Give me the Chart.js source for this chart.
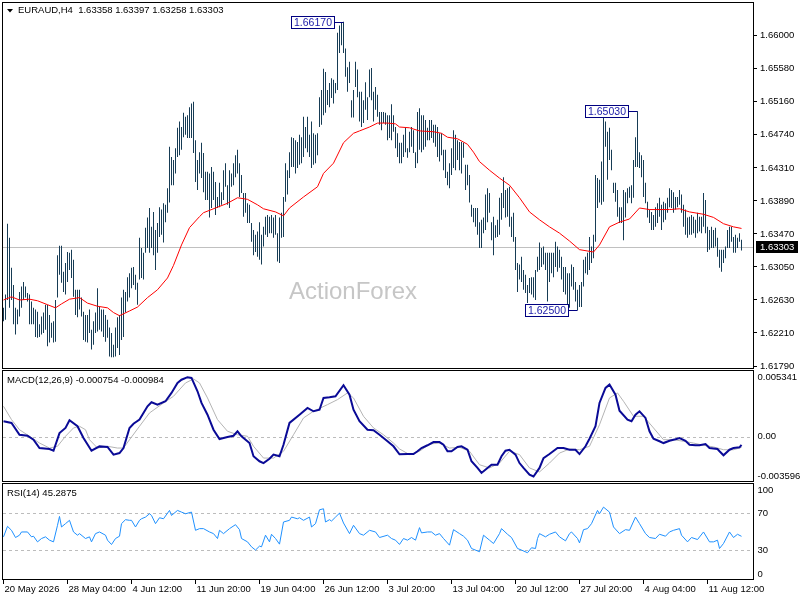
<!DOCTYPE html>
<html>
<head>
<meta charset="utf-8">
<title>EURAUD H4</title>
<script src="https://cdn.jsdelivr.net/npm/chart.js@4.4.1/dist/chart.umd.min.js"></script>
<style>
  body { margin: 0; background: #fff; }
  #wrap { position: relative; width: 800px; height: 600px; overflow: hidden; background: #fff; }
  #wrap canvas { position: absolute; left: 0; }
</style>
</head>
<body>
<div id="wrap">
  <canvas id="price" width="800" height="371" style="top:0"></canvas>
  <canvas id="macd" width="800" height="114" style="top:369px"></canvas>
  <canvas id="rsi" width="800" height="118" style="top:482px"></canvas>
</div>
<script>
const symbol = 'EURAUD,H4';
const watermark = 'ActionForex';
const lastBar = [1.63358, 1.63397, 1.63258, 1.63303]; // open, high, low, close

// H4 bars, one per index, oldest first
const barHigh = [
  1.6253, 1.6270, 1.6360, 1.6342, 1.6304, 1.6282, 1.6253, 1.6251, 1.6273, 1.6280,
  1.6286, 1.6280, 1.6272, 1.6270, 1.6261, 1.6253, 1.6251, 1.6248, 1.6232, 1.6242,
  1.6247, 1.6257, 1.6257, 1.6244, 1.6234, 1.6236, 1.6263, 1.6320, 1.6332, 1.6332,
  1.6299, 1.6310, 1.6324, 1.6323, 1.6327, 1.6314, 1.6276, 1.6276, 1.6276, 1.6266,
  1.6248, 1.6244, 1.6244, 1.6251, 1.6225, 1.6236, 1.6247, 1.6278, 1.6254, 1.6251,
  1.6251, 1.6244, 1.6238, 1.6228, 1.6221, 1.6206, 1.6228, 1.6241, 1.6244, 1.6266,
  1.6276, 1.6273, 1.6292, 1.6297, 1.6304, 1.6305, 1.6295, 1.6285, 1.6342, 1.6329,
  1.6323, 1.6355, 1.6368, 1.6380, 1.6356, 1.6375, 1.6352, 1.6361, 1.6381, 1.6378,
  1.6386, 1.6384, 1.6405, 1.6458, 1.6445, 1.6441, 1.6456, 1.6482, 1.6490, 1.6483,
  1.6501, 1.6496, 1.6498, 1.6508, 1.6513, 1.6515, 1.6466, 1.6441, 1.6451, 1.6463,
  1.6450, 1.6426, 1.6426, 1.6424, 1.6432, 1.6426, 1.6413, 1.6394, 1.6412, 1.6400,
  1.6428, 1.6437, 1.6409, 1.6428, 1.6424, 1.6437, 1.6447, 1.6454, 1.6437, 1.6422,
  1.6399, 1.6399, 1.6386, 1.6384, 1.6361, 1.6352, 1.6346, 1.6350, 1.6362, 1.6346,
  1.6356, 1.6369, 1.6371, 1.6369, 1.6371, 1.6368, 1.6371, 1.6348, 1.6368, 1.6374,
  1.6394, 1.6437, 1.6428, 1.6451, 1.6470, 1.6469, 1.6466, 1.6464, 1.6473, 1.6470,
  1.6496, 1.6483, 1.6496, 1.6473, 1.6490, 1.6475, 1.6473, 1.6475, 1.6521, 1.6530,
  1.6557, 1.6553, 1.6530, 1.6539, 1.6545, 1.6543, 1.6539, 1.6603, 1.6612, 1.6616,
  1.6617, 1.6583, 1.6559, 1.6566, 1.6517, 1.6530, 1.6566, 1.6556, 1.6528, 1.6528,
  1.6517, 1.6540, 1.6521, 1.6556, 1.6558, 1.6528, 1.6534, 1.6524, 1.6502, 1.6502,
  1.6502, 1.6501, 1.6498, 1.6498, 1.6512, 1.6498, 1.6483, 1.6475, 1.6463, 1.6463,
  1.6473, 1.6482, 1.6456, 1.6477, 1.6483, 1.6479, 1.6451, 1.6502, 1.6507, 1.6498,
  1.6498, 1.6492, 1.6482, 1.6492, 1.6492, 1.6486, 1.6486, 1.6483, 1.6475, 1.6475,
  1.6454, 1.6454, 1.6426, 1.6437, 1.6456, 1.6479, 1.6473, 1.6466, 1.6464, 1.6464,
  1.6463, 1.6435, 1.6435, 1.6422, 1.6384, 1.6380, 1.6380, 1.6380, 1.6362, 1.6365,
  1.6368, 1.6397, 1.6405, 1.6399, 1.6362, 1.6369, 1.6358, 1.6365, 1.6393, 1.6399,
  1.6419, 1.6403, 1.6405, 1.6407, 1.6369, 1.6374, 1.6343, 1.6310, 1.6308, 1.6318,
  1.6301, 1.6295, 1.6282, 1.6291, 1.6292, 1.6292, 1.6301, 1.6318, 1.6336, 1.6329,
  1.6331, 1.6323, 1.6323, 1.6323, 1.6323, 1.6323, 1.6337, 1.6331, 1.6327, 1.6318,
  1.6305, 1.6305, 1.6297, 1.6297, 1.6308, 1.6305, 1.6286, 1.6276, 1.6282, 1.6286,
  1.6314, 1.6318, 1.6323, 1.6343, 1.6331, 1.6346, 1.6422, 1.6418, 1.6416, 1.6439,
  1.6495, 1.6490, 1.6477, 1.6482, 1.6454, 1.6412, 1.6412, 1.6403, 1.6381, 1.6381,
  1.6403, 1.6400, 1.6405, 1.6407, 1.6409, 1.6441, 1.6470, 1.6503, 1.6451, 1.6447,
  1.6441, 1.6412, 1.6388, 1.6378, 1.6375, 1.6371, 1.6381, 1.6386, 1.6393, 1.6384,
  1.6388, 1.6386, 1.6393, 1.6405, 1.6403, 1.6400, 1.6394, 1.6394, 1.6403, 1.6397,
  1.6384, 1.6378, 1.6368, 1.6369, 1.6371, 1.6369, 1.6365, 1.6374, 1.6369, 1.6369,
  1.6399, 1.6390, 1.6356, 1.6352, 1.6356, 1.6352, 1.6355, 1.6342, 1.6327, 1.6327,
  1.6327, 1.6331, 1.6352, 1.6356, 1.6356, 1.6343, 1.6346, 1.6342, 1.6348, 1.63397
];
const barLow = [
  1.6236, 1.6238, 1.6263, 1.6253, 1.6263, 1.6232, 1.6219, 1.6232, 1.6242, 1.6253,
  1.6263, 1.6266, 1.6261, 1.6232, 1.6232, 1.6232, 1.6216, 1.6215, 1.6216, 1.6219,
  1.6221, 1.6225, 1.6204, 1.6209, 1.6215, 1.6209, 1.6210, 1.6266, 1.6295, 1.6285,
  1.6273, 1.6270, 1.6286, 1.6301, 1.6291, 1.6267, 1.6244, 1.6241, 1.6251, 1.6242,
  1.6212, 1.6210, 1.6209, 1.6221, 1.6200, 1.6206, 1.6221, 1.6223, 1.6225, 1.6223,
  1.6216, 1.6210, 1.6215, 1.6191, 1.6190, 1.6190, 1.6191, 1.6202, 1.6193, 1.6212,
  1.6216, 1.6247, 1.6261, 1.6266, 1.6278, 1.6282, 1.6276, 1.6257, 1.6289, 1.6291,
  1.6289, 1.6323, 1.6329, 1.6323, 1.6329, 1.6320, 1.6301, 1.6323, 1.6343, 1.6346,
  1.6336, 1.6362, 1.6374, 1.6387, 1.6409, 1.6409, 1.6424, 1.6445, 1.6447, 1.6454,
  1.6470, 1.6473, 1.6469, 1.6469, 1.6469, 1.6450, 1.6413, 1.6403, 1.6424, 1.6418,
  1.6400, 1.6390, 1.6390, 1.6368, 1.6380, 1.6390, 1.6371, 1.6380, 1.6381, 1.6384,
  1.6390, 1.6407, 1.6384, 1.6380, 1.6407, 1.6409, 1.6419, 1.6424, 1.6394, 1.6399,
  1.6369, 1.6374, 1.6361, 1.6361, 1.6337, 1.6320, 1.6324, 1.6318, 1.6314, 1.6308,
  1.6331, 1.6346, 1.6343, 1.6348, 1.6348, 1.6342, 1.6346, 1.6312, 1.6310, 1.6342,
  1.6343, 1.6388, 1.6397, 1.6418, 1.6432, 1.6432, 1.6424, 1.6431, 1.6435, 1.6437,
  1.6445, 1.6456, 1.6451, 1.6445, 1.6431, 1.6435, 1.6437, 1.6447, 1.6483, 1.6486,
  1.6498, 1.6501, 1.6511, 1.6508, 1.6520, 1.6513, 1.6526, 1.6530, 1.6577, 1.6587,
  1.6577, 1.6547, 1.6528, 1.6539, 1.6495, 1.6495, 1.6534, 1.6521, 1.6490, 1.6483,
  1.6488, 1.6505, 1.6492, 1.6521, 1.6517, 1.6490, 1.6505, 1.6496, 1.6486, 1.6479,
  1.6488, 1.6486, 1.6466, 1.6469, 1.6466, 1.6477, 1.6456, 1.6445, 1.6437, 1.6437,
  1.6445, 1.6451, 1.6444, 1.6451, 1.6458, 1.6450, 1.6431, 1.6437, 1.6454, 1.6451,
  1.6454, 1.6458, 1.6466, 1.6466, 1.6469, 1.6463, 1.6458, 1.6445, 1.6439, 1.6447,
  1.6428, 1.6418, 1.6409, 1.6405, 1.6422, 1.6431, 1.6428, 1.6441, 1.6428, 1.6424,
  1.6444, 1.6403, 1.6409, 1.6387, 1.6369, 1.6362, 1.6356, 1.6346, 1.6329, 1.6329,
  1.6348, 1.6352, 1.6362, 1.6374, 1.6339, 1.6320, 1.6342, 1.6343, 1.6346, 1.6365,
  1.6380, 1.6368, 1.6369, 1.6356, 1.6343, 1.6337, 1.6301, 1.6273, 1.6289, 1.6286,
  1.6276, 1.6272, 1.6259, 1.6272, 1.6270, 1.6266, 1.6263, 1.6299, 1.6301, 1.6305,
  1.6308, 1.6301, 1.6261, 1.6286, 1.6297, 1.6292, 1.6305, 1.6299, 1.6304, 1.6289,
  1.6273, 1.6270, 1.6257, 1.6253, 1.6280, 1.6276, 1.6261, 1.6250, 1.6254, 1.6254,
  1.6280, 1.6297, 1.6295, 1.6301, 1.6310, 1.6316, 1.6337, 1.6380, 1.6387, 1.6384,
  1.6388, 1.6458, 1.6416, 1.6441, 1.6428, 1.6399, 1.6388, 1.6369, 1.6361, 1.6361,
  1.6339, 1.6368, 1.6386, 1.6393, 1.6386, 1.6393, 1.6432, 1.6432, 1.6431, 1.6419,
  1.6394, 1.6386, 1.6368, 1.6361, 1.6352, 1.6352, 1.6356, 1.6361, 1.6369, 1.6352,
  1.6362, 1.6365, 1.6374, 1.6381, 1.6380, 1.6374, 1.6378, 1.6381, 1.6384, 1.6374,
  1.6356, 1.6346, 1.6342, 1.6346, 1.6346, 1.6348, 1.6342, 1.6348, 1.6350, 1.6348,
  1.6356, 1.6348, 1.6324, 1.6327, 1.6329, 1.6329, 1.6331, 1.6318, 1.6304, 1.6299,
  1.6310, 1.6316, 1.6329, 1.6329, 1.6337, 1.6323, 1.6323, 1.6329, 1.6337, 1.63258
];

// moving average (red), read at these bar indexes
const maIndex = [0,4,8,13,17,22,26,29,33,38, 42,47,52,55,58,63,67,72,77,82,
  85,89,93,98,100,107,112,117,122,127, 130,136,140,143,150,157,160,165,170,175,
  178,183,187,192,196,198,203,208,215,219, 222,227,232,235,238,243,248,253,258,263,
  268,273,278,283,288,295,298,303,308,313, 318,323,328,333,338,343,350,355,360,365, 369];
const maValue = [1.6263,1.6267,1.6263,1.6264,1.6262,1.6257,1.6253,1.6258,1.6264,1.6266,
  1.6259,1.6255,1.6253,1.6247,1.6243,1.6249,1.6254,1.6266,1.6276,1.6291,
  1.6307,1.6333,1.6355,1.6369,1.6374,1.6381,1.6386,1.6393,1.6391,1.6384,
  1.6379,1.6375,1.6370,1.6380,1.6394,1.6407,1.6424,1.6437,1.6463,1.6475,
  1.6478,1.6483,1.6488,1.6488,1.6487,1.6483,1.6482,1.6478,1.6477,1.6475,
  1.6470,1.6468,1.6461,1.6451,1.6439,1.6428,1.6418,1.6409,1.6393,1.6375,
  1.6365,1.6356,1.6348,1.6338,1.6327,1.6324,1.6333,1.6356,1.6362,1.6366,
  1.6380,1.6378,1.6378,1.6378,1.6379,1.6375,1.6372,1.6368,1.6360,1.6356, 1.6354];

// MACD(12,26,9)
const macdIndex = [0,4,8,12,15,18,23,25,28,31, 33,37,40,44,48,52,55,58,60,63,
  65,68,72,74,77,81,84,87,89,92, 94,97,99,102,105,108,112,115,117,119,
  123,125,128,130,133,135,138,140,143,148, 152,155,158,160,163,166,170,173,175,178,
  182,185,188,192,195,198,202,205,207,209, 212,215,218,220,222,224,227,229,232,234,
  237,239,242,244,247,249,251,253,256,258, 260,263,265,268,270,273,277,280,283,286,
  288,291,293,296,298,301,303,306,308,312, 314,316,318,321,323,325,328,330,333,336,
  338,341,343,346,348,351,353,357,358,360, 363,365,368,369];
const macdValue = [0.00137,0.00122,0.00016,0.00007,-0.00029,-0.00104,-0.00113,-0.00128,0.00031,0.00077,
  0.00146,0.00092,-0.00014,-0.00128,-0.00089,-0.00094,-0.00163,-0.00149,-0.00104,0.00077,
  0.00115,0.00152,0.00272,0.00308,0.00287,0.00317,0.00392,0.00482,0.00511,0.00534,
  0.00527,0.00407,0.00302,0.00196,0.00061,-0.00023,-0.00005,0.00007,0.00047,0.00002,
  -0.00059,-0.00178,-0.00223,-0.00239,-0.00200,-0.00163,-0.00178,-0.00074,0.00122,0.00196,
  0.00257,0.00227,0.00241,0.00347,0.00353,0.00362,0.00461,0.00376,0.00241,0.00137,
  0.00061,0.00056,0.00016,-0.00043,-0.00088,-0.00160,-0.00158,-0.00158,-0.00133,-0.00104,
  -0.00079,-0.00050,-0.00050,-0.00074,-0.00133,-0.00133,-0.00094,-0.00088,-0.00119,-0.00223,
  -0.00283,-0.00328,-0.00283,-0.00254,-0.00254,-0.00178,-0.00128,-0.00119,-0.00163,-0.00239,
  -0.00283,-0.00344,-0.00360,-0.00283,-0.00194,-0.00158,-0.00104,-0.00104,-0.00119,-0.00119,
  -0.00158,-0.00088,-0.00020,0.00092,0.00302,0.00437,0.00467,0.00376,0.00232,0.00152,
  0.00137,0.00196,0.00227,0.00167,0.00047,-0.00020,-0.00043,-0.00059,-0.00038,-0.00025,
  -0.00014,-0.00038,-0.00074,-0.00079,-0.00079,-0.00068,-0.00104,-0.00113,-0.00133,-0.00169,
  -0.00119,-0.00104,-0.00097,-0.000754];
const signalIndex = [0,4,8,13,18,23,27,31,35,38, 41,43,47,52,57,60,63,68,73,80,
  85,91,95,98,102,107,112,117,122,125, 130,135,140,145,150,155,162,167,172,175,
  180,185,190,195,198,203,208,213,218,223, 228,233,238,243,248,253,258,263,268,273,
  278,283,288,293,298,303,307,310,315,320, 325,330,335,340,345,350,355,360,365,369];
const signalValue = [0.00272,0.00152,0.00061,0.00002,-0.00059,-0.00104,-0.00088,0.00002,0.00077,0.00092,
  0.00061,-0.00029,-0.00104,-0.00088,-0.00104,-0.00104,-0.00029,0.00092,0.00212,0.00302,
  0.00362,0.00482,0.00518,0.00482,0.00347,0.00152,0.00047,0.00016,0.00002,-0.00088,
  -0.00194,-0.00194,-0.00133,0.00016,0.00167,0.00227,0.00287,0.00332,0.00392,0.00347,
  0.00182,0.00077,0.00016,-0.00059,-0.00112,-0.00163,-0.00133,-0.00068,-0.00059,-0.00104,
  -0.00097,-0.00133,-0.00254,-0.00283,-0.00239,-0.00133,-0.00163,-0.00283,-0.00319,-0.00239,
  -0.00149,-0.00113,-0.00119,-0.00088,0.00106,0.00347,0.00392,0.00317,0.00182,0.00182,
  0.00077,-0.00029,-0.00029,-0.00043,-0.00059,-0.00079,-0.00094,-0.00119,-0.00119,-0.000984];
const macdAxisValues = [0.005341, 0, -0.003596];

// RSI(14)
const rsiIndex = [0,2,4,6,8,9,12,14,15,17, 19,21,23,25,27,28,29,31,33,35,
  37,38,41,43,44,46,48,51,52,54, 56,58,59,61,63,64,66,68,69,71,
  73,74,76,78,80,83,84,87,89,91, 94,96,98,100,103,105,107,108,110,113,
  116,118,119,122,124,126,128,129,131,133, 134,136,138,140,143,144,147,148,150,153,
  154,156,158,160,161,163,164,166,168,170, 173,175,178,180,183,186,188,192,194,196,
  198,200,202,204,206,208,209,212,214,216, 218,220,223,225,228,230,232,234,238,240,
  243,245,248,249,252,254,257,259,262,264, 266,267,268,271,273,276,278,281,283,284,
  287,288,290,292,294,297,298,300,303,305, 308,311,313,316,318,321,323,326,328,331,
  333,335,338,339,342,344,347,350,353,355, 357,358,360,363,365,367,369];
const rsiValue = [44.7,56.1,51.8,44.0,46.5,50.0,50.0,44.7,45.4,39.3,
  42.9,44.7,41.1,39.3,57.2,66.8,55.4,59.0,62.6,50.0,
  46.5,48.2,42.9,44.7,39.3,48.2,50.0,46.5,41.1,36.4,
  42.9,45.4,59.0,63.3,62.6,62.6,55.4,62.6,64.3,66.1,
  69.7,67.9,59.0,65.4,64.3,73.3,67.9,73.3,71.5,69.7,
  71.5,51.8,53.6,53.6,50.0,48.2,42.9,51.8,48.2,53.6,
  57.9,52.5,42.9,39.3,33.9,30.4,34.7,33.9,46.5,39.3,
  47.5,42.9,36.8,60.8,62.6,66.1,64.3,65.4,62.6,66.1,
  55.4,59.0,74.0,75.1,60.8,63.3,61.8,66.1,70.4,59.7,
  48.2,57.2,48.2,46.5,51.8,50.0,44.0,46.5,42.9,41.1,
  36.5,42.9,41.1,44.0,41.1,54.7,49.0,50.0,50.0,46.5,
  48.2,42.9,35.7,52.5,48.2,45.4,41.1,32.1,28.6,46.5,
  41.1,37.5,48.2,53.6,47.5,44.0,32.1,30.4,27.5,32.9,
  32.1,42.9,48.2,44.7,47.5,50.0,44.7,40.4,48.2,50.0,
  42.9,38.2,52.5,53.6,59.0,73.3,69.7,76.9,71.5,55.4,
  48.2,52.5,51.8,66.1,59.0,48.2,44.0,42.9,47.5,45.4,
  50.0,51.8,53.6,46.5,39.3,44.0,41.8,50.0,39.3,39.3,
  41.1,32.1,37.5,50.0,44.0,47.5,45.2875];
const rsiLevels = [70, 30];
const rsiAxisValues = [100, 70, 30, 0];

// marked swing highs / lows
const markIndex = [170, 317, 287];
const markValue = [1.66170, 1.65030, 1.62500];

// axes
const priceTicks = [1.61790, 1.62210, 1.62630, 1.63050, 1.63470, 1.63890, 1.64310, 1.64740, 1.65160, 1.65580, 1.66000];
const dateTickIndex = [0, 32, 64, 96, 128, 160, 192, 224, 256, 288, 320, 352];
const dateTickLabels = ['20 May 2026', '28 May 04:00', '4 Jun 12:00', '11 Jun 20:00', '19 Jun 04:00', '26 Jun 12:00',
  '3 Jul 20:00', '13 Jul 04:00', '20 Jul 12:00', '27 Jul 20:00', '4 Aug 04:00', '11 Aug 12:00'];

const FONT = '"Liberation Sans", Arial, sans-serif';
const X_MIN = -0.75;           // 2 px per bar over a 752 px wide plot
const X_MAX = X_MIN + 376;

Chart.defaults.font.family = FONT;
Chart.defaults.font.size = 9.5;
Chart.defaults.color = '#000';

const toPoints = (idx, val) => idx.map((x, k) => ({ x: x, y: val[k] }));

function xScale(show) {
  const s = { type: 'linear', min: X_MIN, max: X_MAX, offset: false, display: show };
  if (show) {
    Object.assign(s, {
      position: 'bottom',
      afterBuildTicks: sc => { sc.ticks = dateTickIndex.map(v => ({ value: v })); },
      afterFit: sc => { sc.height = 20; sc.paddingLeft = 0; sc.paddingRight = 0; },
      ticks: { autoSkip: false, maxRotation: 0, minRotation: 0, align: 'start', padding: 0, labelOffset: 1,
               callback: (v, i) => dateTickLabels[i] },
      grid: { drawOnChartArea: false, drawTicks: true, tickLength: 4, color: '#000' },
      border: { display: false }
    });
  }
  return s;
}

function sideAxis(min, max) {
  return {
    position: 'right', min: min, max: max,
    ticks: { display: false }, grid: { display: false }, border: { display: false },
    afterFit: sc => { sc.width = 46; sc.paddingTop = 0; sc.paddingBottom = 0; }
  };
}

const baseOptions = {
  responsive: false,
  animation: false,
  devicePixelRatio: 1,
  events: [],
  plugins: { legend: { display: false }, tooltip: { enabled: false } }
};

const frame = {
  id: 'frame',
  afterDraw(chart) {
    const { ctx, chartArea: a } = chart;
    ctx.save();
    ctx.strokeStyle = '#000';
    ctx.lineWidth = 1;
    ctx.strokeRect(a.left + 0.5, a.top + 0.5, a.right - a.left - 1, a.bottom - a.top - 1);
    ctx.restore();
  }
};

const priceDecor = {
  id: 'priceDecor',
  beforeDatasetsDraw(chart) {
    const { ctx, chartArea: a, scales } = chart;
    ctx.save();
    ctx.font = '24px ' + FONT;
    ctx.fillStyle = '#c6c6c6';
    ctx.textAlign = 'center';
    ctx.textBaseline = 'alphabetic';
    ctx.fillText(watermark, 353, 299);
    const y = Math.round(scales.y.getPixelForValue(lastBar[3])) + 0.5;
    ctx.strokeStyle = '#c0c0c0';
    ctx.lineWidth = 1;
    ctx.beginPath();
    ctx.moveTo(a.left + 1, y);
    ctx.lineTo(a.right - 1, y);
    ctx.stroke();
    ctx.restore();
  },
  afterDraw(chart) {
    const { ctx, chartArea: a, scales } = chart;
    ctx.save();
    // title line
    ctx.fillStyle = '#000';
    ctx.beginPath();
    ctx.moveTo(7, 9); ctx.lineTo(13, 9); ctx.lineTo(10, 12.5); ctx.closePath();
    ctx.fill();
    ctx.font = '9.5px ' + FONT;
    ctx.textAlign = 'left';
    ctx.textBaseline = 'middle';
    ctx.fillText(symbol + '  ' + lastBar.map(v => v.toFixed(5)).join(' '), 18, 10.5);

    // swing high / low tags
    ctx.font = '10.5px ' + FONT;
    markIndex.forEach((idx, k) => {
      const bx = scales.x.getPixelForValue(idx);
      const by = Math.round(scales.y.getPixelForValue(markValue[k])) + 0.5;
      const text = markValue[k].toFixed(5);
      const w = Math.round(ctx.measureText(text).width) + 5;
      const right = Math.round(bx - 10) + 0.5;
      const left = right - w;
      ctx.fillStyle = '#fff';
      ctx.fillRect(left, by - 6, w, 12);
      ctx.strokeStyle = '#000080';
      ctx.lineWidth = 1;
      ctx.strokeRect(left, by - 6, w, 12);
      ctx.beginPath();
      ctx.moveTo(right, by);
      ctx.lineTo(bx, by);
      ctx.stroke();
      ctx.fillStyle = '#1a1aa8';
      ctx.textAlign = 'center';
      ctx.fillText(text, left + w / 2, by + 0.5);
    });

    // last price tag on the scale
    const py = Math.round(scales.y.getPixelForValue(lastBar[3]));
    ctx.fillStyle = '#000';
    ctx.fillRect(a.right + 2, py - 6, 42, 12);
    ctx.fillStyle = '#fff';
    ctx.font = '9.5px ' + FONT;
    ctx.textAlign = 'left';
    ctx.fillText(lastBar[3].toFixed(5), a.right + 6, py + 0.5);
    ctx.restore();
  }
};

function panelDecor(title, levels, axisValues, axisText) {
  return {
    id: 'panelDecor',
    beforeDatasetsDraw(chart) {
      const { ctx, chartArea: a, scales } = chart;
      ctx.save();
      ctx.strokeStyle = '#bcbcbc';
      ctx.lineWidth = 1;
      ctx.setLineDash([3, 3]);
      levels.forEach(v => {
        const y = Math.round(scales.y.getPixelForValue(v)) + 0.5;
        ctx.beginPath();
        ctx.moveTo(a.left + 1, y);
        ctx.lineTo(a.right - 1, y);
        ctx.stroke();
      });
      ctx.restore();
    },
    afterDraw(chart) {
      const { ctx, chartArea: a, scales } = chart;
      ctx.save();
      ctx.fillStyle = '#000';
      ctx.font = '9.5px ' + FONT;
      ctx.textAlign = 'left';
      ctx.textBaseline = 'middle';
      ctx.fillText(title, a.left + 5, a.top + 10.5);
      axisValues.forEach((v, k) => {
        let y = scales.y.getPixelForValue(v);
        y = Math.min(Math.max(y, a.top + 7.5), a.bottom - 6);
        ctx.fillText(axisText[k], a.right + 3.5, y);
      });
      ctx.restore();
    }
  };
}

// price panel
new Chart(document.getElementById('price'), {
  type: 'bar',
  data: {
    datasets: [
      { type: 'line', label: 'MA', data: toPoints(maIndex, maValue), borderColor: '#ff0000', borderWidth: 1,
        pointRadius: 0, tension: 0, order: 0 },
      { type: 'bar', label: 'EURAUD', data: barLow.map((l, i) => ({ x: i, y: [l, barHigh[i]] })),
        backgroundColor: '#173c55', borderWidth: 0, barThickness: 1, inflateAmount: 0, grouped: false, order: 1 }
    ]
  },
  options: Object.assign({}, baseOptions, {
    layout: { padding: { left: 2, top: 2, right: 0, bottom: 2 } },
    scales: {
      x: xScale(false),
      y: {
        position: 'right', min: 1.61752, max: 1.6642,
        afterBuildTicks: sc => { sc.ticks = priceTicks.map(v => ({ value: v })); },
        afterFit: sc => { sc.width = 46; sc.paddingTop = 0; sc.paddingBottom = 0; },
        ticks: { padding: 3, autoSkip: false, callback: v => v.toFixed(5) },
        grid: { drawOnChartArea: false, drawTicks: true, tickLength: 3, color: '#000' },
        border: { display: false }
      }
    }
  }),
  plugins: [priceDecor, frame]
});

// MACD panel
new Chart(document.getElementById('macd'), {
  type: 'line',
  data: {
    datasets: [
      { label: 'MACD', data: toPoints(macdIndex, macdValue), borderColor: '#0a0a96', borderWidth: 2,
        pointRadius: 0, tension: 0, order: 0 },
      { label: 'Signal', data: toPoints(signalIndex, signalValue), borderColor: '#b4b4b4', borderWidth: 1,
        pointRadius: 0, tension: 0, order: 1 }
    ]
  },
  options: Object.assign({}, baseOptions, {
    layout: { padding: { left: 2, top: 1, right: 0, bottom: 1 } },
    scales: { x: xScale(false), y: sideAxis(-0.004095, 0.005985) }
  }),
  plugins: [panelDecor('MACD(12,26,9) ' + macdValue[macdValue.length - 1].toFixed(6) + ' ' +
      signalValue[signalValue.length - 1].toFixed(6), [0], macdAxisValues,
      macdAxisValues.map(v => v === 0 ? '0.00' : v.toFixed(6))), frame]
});

// RSI panel
new Chart(document.getElementById('rsi'), {
  type: 'line',
  data: {
    datasets: [
      { label: 'RSI', data: toPoints(rsiIndex, rsiValue), borderColor: '#1e90ff', borderWidth: 1,
        pointRadius: 0, tension: 0 }
    ]
  },
  options: Object.assign({}, baseOptions, {
    layout: { padding: { left: 2, top: 1, right: 0, bottom: 0 } },
    scales: { x: xScale(true), y: sideAxis(-2, 103) }
  }),
  plugins: [panelDecor('RSI(14) ' + rsiValue[rsiValue.length - 1].toFixed(4), rsiLevels, rsiAxisValues,
      rsiAxisValues.map(v => String(v))), frame]
});
</script>
</body>
</html>
